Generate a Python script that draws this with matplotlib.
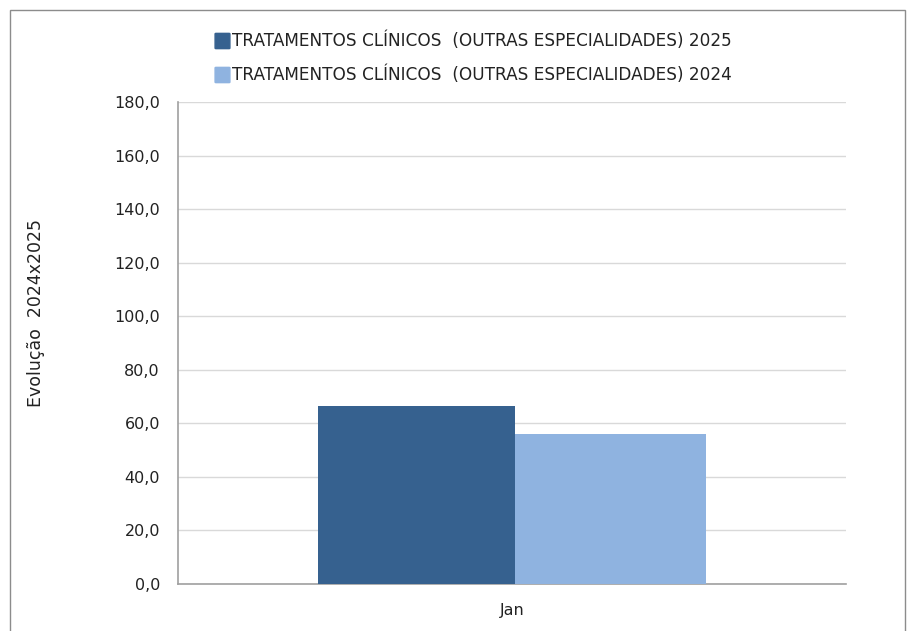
import matplotlib
matplotlib.use("Agg")
import matplotlib.pyplot as plt
from matplotlib.patches import Rectangle, FancyBboxPatch
import numpy as np

categories = ["Jan"]
series_names = ["TRATAMENTOS CLÍNICOS  (OUTRAS ESPECIALIDADES) 2025",
                "TRATAMENTOS CLÍNICOS  (OUTRAS ESPECIALIDADES) 2024"]
values_2025 = [66.5]
values_2024 = [56.0]
y_ticks = [0, 20, 40, 60, 80, 100, 120, 140, 160, 180]
colors = ["#36618f", "#8fb3e0"]

W, H = 914, 631
fig = plt.figure(figsize=(W / 100, H / 100), dpi=100)
ax = fig.add_axes([178 / W, 1 - 584 / H, (846 - 178) / W, (584 - 102) / H])

# outer frame
fig.patches.append(Rectangle((10 / W, -0.1), (905 - 10) / W, (1 - 10 / H) + 0.1,
                             transform=fig.transFigure, fill=False,
                             edgecolor="#8c8c8c", linewidth=1.0))

x = np.arange(len(categories))
bw = 0.295
ax.bar(x + bw / 2 - 0.004, values_2024, width=bw, color=colors[1], zorder=3)
ax.bar(x - bw / 2 + 0.004, values_2025, width=bw, color=colors[0], zorder=3)

ax.set_xlim(-0.5, 0.5)
ax.set_ylim(0, 180)
ax.set_yticks(y_ticks)
ax.set_yticklabels([f"{v:.1f}".replace(".", ",") for v in y_ticks])
ax.set_xticks(x)
ax.set_xticklabels(categories)
ax.tick_params(axis="both", length=0, labelsize=11.5, colors="#222222")
ax.tick_params(axis="y", pad=13)
ax.tick_params(axis="x", pad=14)
ax.grid(axis="y", color="#d9d9d9", linewidth=1.0, zorder=0)
for s in ["top", "right"]:
    ax.spines[s].set_visible(False)
for s in ["left", "bottom"]:
    ax.spines[s].set_color("#a0a0a0")
    ax.spines[s].set_linewidth(1.2)

fig.text(36 / W, 1 - 313 / H, "Evolução  2024x2025", rotation=90,
         ha="center", va="center", fontsize=12.5, color="#222222")

# legend
for i, (name, c) in enumerate(zip(series_names, colors)):
    yc = 1 - (41 + 34 * i) / H
    fig.patches.append(FancyBboxPatch((216 / W, yc - 7 / H), 13 / W, 14 / H,
                                      boxstyle="round,pad=0.001",
                                      transform=fig.transFigure, color=c))
    fig.text(232 / W, yc, name, ha="left", va="center", fontsize=12.2, color="#222222")

fig.savefig("out.png", dpi=100)
